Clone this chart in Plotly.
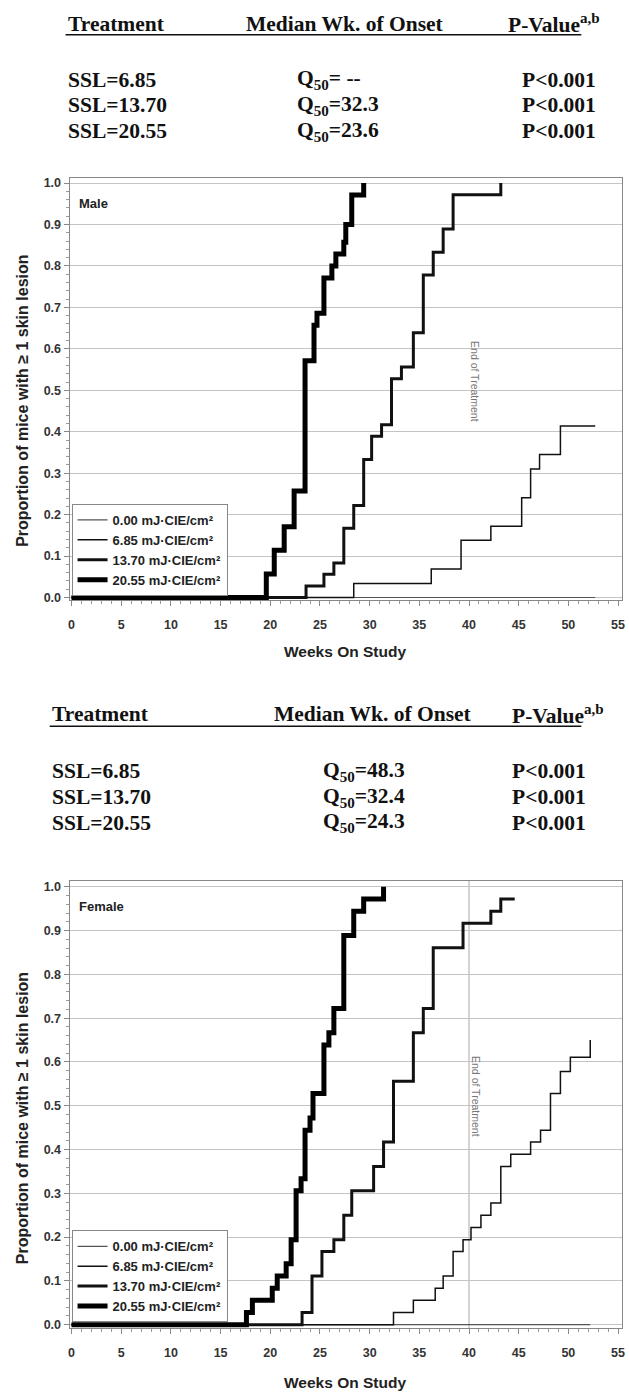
import plotly.graph_objects as go

W, H = 629, 1399

SANS = "Liberation Sans, Arial, sans-serif"
SERIF = "Liberation Serif, Times New Roman, serif"


def px_x(px):
    return px / W


def px_y(py):
    return 1 - py / H


# === datos ===
dose_labels = ["0.00 mJ·CIE/cm²", "6.85 mJ·CIE/cm²", "13.70 mJ·CIE/cm²", "20.55 mJ·CIE/cm²"]

# Machos (semanas del evento, proporcion acumulada)
male_000_wk = [0, 52.7]
male_000_p = [0, 0]
male_685_wk = [0, 28.4, 36.2, 39.2, 42.2, 45.3, 46.2, 47.1, 49.2, 52.7]
male_685_p = [0, 0.034, 0.069, 0.138, 0.172, 0.241, 0.310, 0.345, 0.414, 0.414]
male_1370_wk = [0, 23.6, 25.4, 26.4, 27.4, 28.4, 29.4, 30.2, 31.2, 32.2, 33.2, 34.4, 35.4, 36.4, 37.4, 38.4, 43.2]
male_1370_p = [0, 0.028, 0.056, 0.083, 0.167, 0.222, 0.333, 0.389, 0.417, 0.528, 0.556, 0.639, 0.778, 0.833, 0.889, 0.972, 1.0]
male_2055_wk = [0, 19.6, 20.4, 21.4, 22.4, 23.5, 24.4, 24.7, 25.4, 26.2, 26.6, 27.4, 27.6, 28.2, 29.4]
male_2055_p = [0, 0.057, 0.114, 0.171, 0.257, 0.571, 0.657, 0.686, 0.771, 0.800, 0.829, 0.857, 0.900, 0.971, 1.0]

# Hembras
female_000_wk = [0, 52.2]
female_000_p = [0, 0]
female_685_wk = [0, 32.4, 34.4, 36.6, 37.4, 38.4, 39.4, 40.2, 41.2, 42.2, 43.2, 44.2, 46.2, 47.2, 48.2, 49.2, 50.2, 52.2]
female_685_p = [0, 0.028, 0.056, 0.083, 0.111, 0.167, 0.194, 0.222, 0.250, 0.278, 0.361, 0.389, 0.417, 0.444, 0.528, 0.578, 0.611, 0.650]
female_1370_wk = [0, 23.2, 24.2, 25.2, 26.4, 27.4, 28.2, 30.4, 31.4, 32.4, 34.4, 35.4, 36.4, 39.4, 42.2, 43.2, 44.6]
female_1370_p = [0, 0.028, 0.111, 0.167, 0.194, 0.250, 0.306, 0.361, 0.417, 0.556, 0.667, 0.722, 0.861, 0.917, 0.944, 0.972, 0.972]
female_2055_wk = [0, 17.6, 18.2, 20.2, 20.7, 21.6, 22.1, 22.6, 23.1, 23.5, 24.0, 24.3, 25.4, 25.9, 26.4, 27.4, 28.4, 29.4, 31.4]
female_2055_p = [0, 0.028, 0.056, 0.083, 0.111, 0.139, 0.194, 0.306, 0.333, 0.444, 0.472, 0.528, 0.639, 0.667, 0.722, 0.889, 0.944, 0.972, 1.0]

# Tabla de cabecera
treatments = ["SSL=6.85", "SSL=13.70", "SSL=20.55"]
male_q50 = [" --", "32.3", "23.6"]
female_q50 = ["48.3", "32.4", "24.3"]
p_values = ["P<0.001", "P<0.001", "P<0.001"]

line_styles = [("#555555", 1.2), ("#111111", 1.5), ("#111111", 3), ("#000000", 5)]

fig = go.Figure()

male_series = [(male_000_wk, male_000_p), (male_685_wk, male_685_p),
               (male_1370_wk, male_1370_p), (male_2055_wk, male_2055_p)]
female_series = [(female_000_wk, female_000_p), (female_685_wk, female_685_p),
                 (female_1370_wk, female_1370_p), (female_2055_wk, female_2055_p)]

for i, (wk, p) in enumerate(male_series):
    color, width = line_styles[i]
    fig.add_trace(go.Scatter(x=wk, y=p, mode="lines", line=dict(color=color, width=width, shape="hv"),
                             name=dose_labels[i], xaxis="x", yaxis="y", legend="legend"))

for i, (wk, p) in enumerate(female_series):
    color, width = line_styles[i]
    fig.add_trace(go.Scatter(x=wk, y=p, mode="lines", line=dict(color=color, width=width, shape="hv"),
                             name=dose_labels[i], xaxis="x2", yaxis="y2", legend="legend2"))

# === ejes ===
tickfont = dict(family=SANS, size=12.5, color="#333333", weight="bold")
xcommon = dict(range=[-0.2, 55.4], dtick=5, tick0=0, showgrid=False, zeroline=False,
               showline=True, linecolor="#888888", linewidth=1, mirror=True,
               ticks="outside", ticklen=5, tickcolor="#888888", tickfont=tickfont,
               ticklabelstandoff=8, ticklabeloverflow="allow",
               minor=dict(dtick=1, ticks="outside", ticklen=3, tickcolor="#999999"))
ycommon = dict(dtick=0.1, tick0=0, tickformat=".1f", showgrid=True, gridcolor="#c4c4c4", gridwidth=1,
               zeroline=False, showline=True, linecolor="#888888", linewidth=1, mirror=True,
               ticks="outside", ticklen=5, tickcolor="#888888", tickfont=tickfont,
               ticklabeloverflow="allow",
               minor=dict(dtick=0.02, ticks="outside", ticklen=3, tickcolor="#999999"))

fig.update_layout(
    xaxis=dict(domain=[px_x(69), px_x(625)], anchor="y", **xcommon),
    yaxis=dict(domain=[px_y(601), px_y(177)], anchor="x", range=[-0.006, 1.012], **ycommon),
    xaxis2=dict(domain=[px_x(69), px_x(625)], anchor="y2", **xcommon),
    yaxis2=dict(domain=[px_y(1333), px_y(883)], anchor="x2", range=[-0.0084, 1.0143], **ycommon),
)

legend_common = dict(bgcolor="white", bordercolor="#888888", borderwidth=1,
                     font=dict(family=SANS, size=13, color="#222222", weight="bold"),
                     xanchor="left", yanchor="bottom", itemwidth=30, tracegroupgap=0)
fig.update_layout(
    legend=dict(x=px_x(71), y=px_y(597), **legend_common),
    legend2=dict(x=px_x(71), y=px_y(1327), **legend_common),
)

# linea de fin de tratamiento (hembras)
fig.add_shape(type="line", xref="x2", yref="y2 domain", x0=40, x1=40, y0=0, y1=1,
              line=dict(color="#aaaaaa", width=1), layer="below")

ann = []
eot_font = dict(family=SANS, size=10.5, color="#777777")
ann.append(dict(text="End of Treatment", xref="x", yref="y", x=40.6, y=0.52, textangle=90,
                showarrow=False, font=eot_font))
ann.append(dict(text="End of Treatment", xref="x2", yref="y2", x=40.7, y=0.52, textangle=90,
                showarrow=False, font=eot_font))

lab_font = dict(family=SANS, size=13, color="#222222", weight="bold")
ann.append(dict(text="Male", xref="paper", yref="paper", x=px_x(76), y=px_y(203),
                xanchor="left", yanchor="middle", showarrow=False, font=lab_font))
ann.append(dict(text="Female", xref="paper", yref="paper", x=px_x(76), y=px_y(909),
                xanchor="left", yanchor="middle", showarrow=False, font=lab_font))

ytitle_font = dict(family=SANS, size=16, color="#222222", weight="bold")
xtitle_font = dict(family=SANS, size=15.5, color="#222222", weight="bold")
for yc in [401, 1122]:
    ann.append(dict(text="Proportion of mice with ≥ 1 skin lesion", xref="paper", yref="paper",
                    x=px_x(22), y=px_y(yc), textangle=-90, showarrow=False, font=ytitle_font,
                    xanchor="center", yanchor="middle"))
for yc in [653, 1387]:
    ann.append(dict(text="Weeks On Study", xref="paper", yref="paper", x=px_x(346), y=px_y(yc),
                    showarrow=False, font=xtitle_font, xanchor="center", yanchor="middle"))

# === tablas de cabecera ===
hfont = dict(family=SERIF, size=21.5, color="#111111", weight="bold")


def header_block(y_head, y_line, y_rows, x_treat, x_med, x_pval, x_q, x_p, q50):
    out = []
    out.append(dict(text="Treatment", x=px_x(x_treat), y=px_y(y_head)))
    out.append(dict(text="Median Wk. of Onset", x=px_x(x_med), y=px_y(y_head)))
    out.append(dict(text="P-Value<sup>a,b</sup>", x=px_x(x_pval), y=px_y(y_head)))
    for i in range(3):
        out.append(dict(text=treatments[i], x=px_x(x_treat), y=px_y(y_rows[i])))
        out.append(dict(text="Q<sub>50</sub>=" + q50[i], x=px_x(x_q), y=px_y(y_rows[i])))
        out.append(dict(text=p_values[i], x=px_x(x_p), y=px_y(y_rows[i])))
    for a in out:
        a.update(xref="paper", yref="paper", xanchor="left", yanchor="middle",
                 showarrow=False, font=hfont)
    fig.add_shape(type="line", xref="paper", yref="paper", x0=px_x(x_treat), x1=px_x(584),
                  y0=px_y(y_line), y1=px_y(y_line), line=dict(color="#111111", width=1.5))
    return out


ann += header_block(22, 33, [78, 104, 130], 65, 245, 508, 296, 522, male_q50)
ann += header_block(716, 728, [773, 799, 825], 49, 273, 512, 322, 512, female_q50)

fig.update_layout(
    annotations=ann,
    width=W, height=H, autosize=False,
    margin=dict(l=0, r=0, t=0, b=0),
    paper_bgcolor="white", plot_bgcolor="white",
    showlegend=True,
)

# quitar el margen por defecto del body para que la figura empiece en (0, 0)
fig.write_html("out.html", config={"displayModeBar": False},
               post_script="document.body.style.margin='0px';")
